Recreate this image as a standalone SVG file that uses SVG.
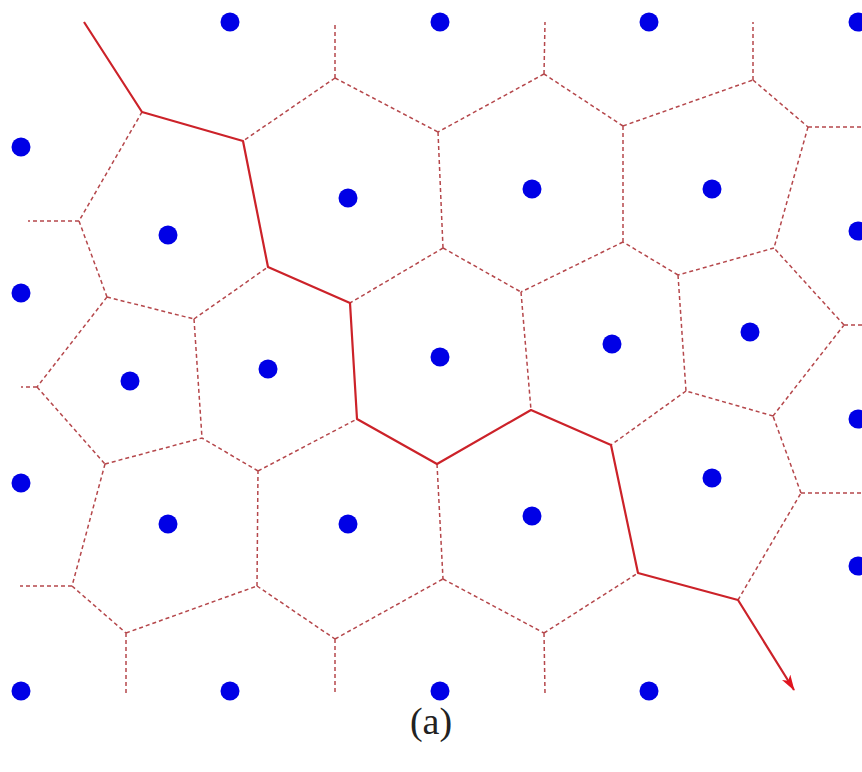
<svg xmlns="http://www.w3.org/2000/svg" width="862" height="772" viewBox="0 0 862 772">
<style>
.site{fill:#0000e6}
.d{stroke:#b5474b;stroke-width:1.5;stroke-dasharray:4 3;fill:none}
.s{stroke:#cc2229;stroke-width:2.2;fill:none;stroke-linejoin:round}
.lbl{font-family:"Liberation Serif","DejaVu Serif",serif;font-size:38px;fill:#222}
</style>
<defs>
<marker id="ah" viewBox="0 0 16 10" refX="15" refY="5" markerWidth="16" markerHeight="10" markerUnits="userSpaceOnUse" orient="auto">
<path d="M0,0 L16,5 L0,10 L4,5 Z" fill="#e0141e"/>
</marker>
</defs>
<rect width="862" height="772" fill="#fff"/>
<g id="connectors">
<g class="d">
<path d="M142,112L79,221M79,221L28,221M79,221L107,297M107,297L194,319M194,319L268,267M194,319L202,438M107,297L37,387M37,387L21,387M37,387L105,464M105,464L202,438M105,464L72,586M72,586L20,586M72,586L126,633M126,633L126,693M126,633L257,586M257,586L258,471M258,471L202,438M258,471L357,419M257,586L335,639M335,639L335,693M335,639L443,579M437,464L443,579M443,579L544,633M544,633L545,693M544,633L638,573M738,600L801,493M801,493L862,493M801,493L773,416M773,416L686,391M773,416L844,325M844,325L862,325M844,325L774,248M774,248L678,275M678,275L686,391M686,391L611,445M678,275L623,242M623,242L623,126M623,126L544,74M544,74L545,22M544,74L438,132M438,132L443,248M443,248L521,292M521,292L531,410M623,242L521,292M443,248L350,303M335,78L335,22M335,78L243,141M335,78L438,132M623,126L753,80M753,80L753,22M753,80L808,127M808,127L862,127M808,127L774,248"/>
</g>
<path id="path" class="s" d="M84,22L142,112L243,141L268,267L350,303L357,419L437,464L531,410L611,445L638,573L738,600L794,690" marker-end="url(#ah)"/>
</g>
<g id="sites" class="site">
<g id="p1"><circle cx="230" cy="22" r="9.5"/></g>
<g id="p2"><circle cx="440" cy="22" r="9.5"/></g>
<g id="p3"><circle cx="649" cy="22" r="9.5"/></g>
<g id="p4"><circle cx="858" cy="22" r="9.5"/></g>
<g id="p5"><circle cx="21" cy="147" r="9.5"/></g>
<g id="p6"><circle cx="348" cy="198" r="9.5"/></g>
<g id="p7"><circle cx="532" cy="189" r="9.5"/></g>
<g id="p8"><circle cx="712" cy="189" r="9.5"/></g>
<g id="p9"><circle cx="168" cy="235" r="9.5"/></g>
<g id="p10"><circle cx="858" cy="231" r="9.5"/></g>
<g id="p11"><circle cx="21" cy="293" r="9.5"/></g>
<g id="p12"><circle cx="130" cy="381" r="9.5"/></g>
<g id="p13"><circle cx="268" cy="369" r="9.5"/></g>
<g id="p14"><circle cx="440" cy="357" r="9.5"/></g>
<g id="p15"><circle cx="612" cy="344" r="9.5"/></g>
<g id="p16"><circle cx="750" cy="332" r="9.5"/></g>
<g id="p17"><circle cx="858" cy="419" r="9.5"/></g>
<g id="p18"><circle cx="21" cy="483" r="9.5"/></g>
<g id="p19"><circle cx="168" cy="524" r="9.5"/></g>
<g id="p20"><circle cx="348" cy="524" r="9.5"/></g>
<g id="p21"><circle cx="532" cy="516" r="9.5"/></g>
<g id="p22"><circle cx="712" cy="478" r="9.5"/></g>
<g id="p23"><circle cx="858" cy="566" r="9.5"/></g>
<g id="p24"><circle cx="21" cy="691" r="9.5"/></g>
<g id="p25"><circle cx="230" cy="691" r="9.5"/></g>
<g id="p26"><circle cx="440" cy="691" r="9.5"/></g>
<g id="p27"><circle cx="649" cy="691" r="9.5"/></g>
</g>
<text class="lbl" x="431" y="734" text-anchor="middle">(a)</text>
</svg>
